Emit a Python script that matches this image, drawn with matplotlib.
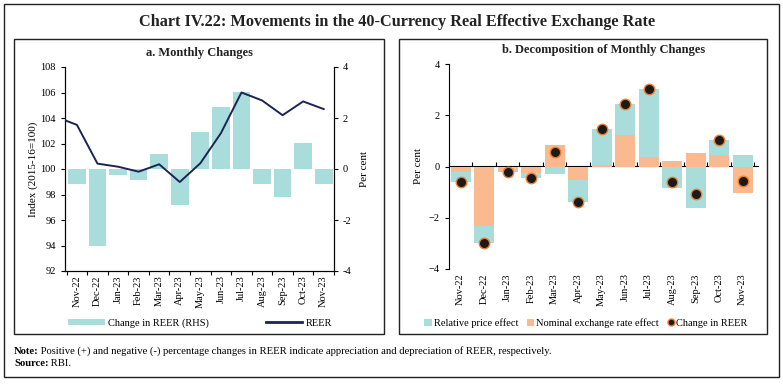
import matplotlib
matplotlib.use("Agg")
import matplotlib.pyplot as plt
from matplotlib.patches import Rectangle, Patch
from matplotlib.lines import Line2D
import numpy as np

plt.rcParams['font.family'] = ['Liberation Serif', 'DejaVu Serif']

months = ["Nov-22", "Dec-22", "Jan-23", "Feb-23", "Mar-23", "Apr-23", "May-23",
          "Jun-23", "Jul-23", "Aug-23", "Sep-23", "Oct-23", "Nov-23"]
# Panel a
reer_change = [-0.60, -3.00, -0.22, -0.42, 0.59, -1.40, 1.46, 2.44, 3.03, -0.60, -1.09, 1.01, -0.58]
reer_prev = 104.08  # Oct-22 REER (line enters from the left edge)
reer_index = [103.46, 100.42, 100.18, 99.79, 100.37, 98.98, 100.45, 102.81, 106.00,
              105.38, 104.22, 105.30, 104.70]
# Panel b
nominal_effect = [-0.23, -2.32, -0.20, -0.27, 0.85, -0.51, 0.07, 1.22, 0.38, 0.21, 0.52, 0.43, -1.02]
relative_effect = [-0.38, -0.65, -0.02, -0.16, -0.29, -0.86, 1.39, 1.22, 2.66, -0.82, -1.60, 0.61, 0.46]
total_change = [-0.60, -2.97, -0.22, -0.43, 0.56, -1.37, 1.46, 2.44, 3.04, -0.61, -1.08, 1.02, -0.56]

TEAL = "#A9DDDB"
ORANGE = "#FBB990"
NAVY = "#1C2456"
DOT_EDGE = "#F07A2A"

W, H = 783, 384
fig = plt.figure(figsize=(W/100, H/100), dpi=100)

def ax_rect(l, t, r, b):
    return [l/W, 1 - b/H, (r-l)/W, (b-t)/H]

def box(l, t, r, b, lw=1.0):
    fig.patches.append(Rectangle((l/W, 1 - b/H), (r-l)/W, (b-t)/H, transform=fig.transFigure,
                                 fill=False, edgecolor="#222222", linewidth=lw))

box(4, 4, 779, 377)
box(14, 39, 384, 334)
box(399, 39, 767, 334)

fig.text(397/W, 1 - 22/H, "Chart IV.22: Movements in the 40-Currency Real Effective Exchange Rate",
         ha="center", va="center", fontsize=11.7, fontweight="bold", color="#222222")

x = np.arange(len(months))
TS = 7.5

# ---------- Panel a ----------
axa = fig.add_axes(ax_rect(65, 67, 334, 271))
axa2 = axa.twinx()
axa2.bar(x, reer_change, width=0.86, color=TEAL, zorder=2)
axa2.set_ylim(-4, 4)
axa2.set_yticks([-4, -2, 0, 2, 4])
axa2.set_yticklabels(["-4", "-2", "0", "2", "4"])
axa2.set_ylabel("Per cent", fontsize=8, labelpad=6)

xl = np.concatenate([[-1], x])
yl = np.concatenate([[reer_prev], reer_index])
axa.plot(xl, yl, color=NAVY, linewidth=1.4, zorder=3)
axa.set_ylim(92, 108)
axa.set_yticks(np.arange(92, 109, 2))
axa.set_xlim(-0.58, 12.42)
axa.set_ylabel("Index (2015-16=100)", fontsize=8, labelpad=2)
axa.set_zorder(axa2.get_zorder() + 1)
axa.patch.set_visible(False)
axa.set_xticks(np.arange(-0.5, 13, 1))
axa.set_xticklabels([])
axa.set_xticks(x, minor=True)
axa.set_xticklabels(months, minor=True, rotation=90)
axa.tick_params(axis="x", which="minor", length=0, labelsize=TS, pad=3)
axa.tick_params(axis="x", which="major", length=3, direction="out")
axa.tick_params(axis="y", labelsize=TS, length=3)
axa2.tick_params(axis="y", labelsize=TS, length=3)
for a in (axa, axa2):
    a.spines["top"].set_visible(False)
    for s in ("left", "right", "bottom"):
        a.spines[s].set_linewidth(0.8)
axa.set_title("a. Monthly Changes", fontsize=9, fontweight="bold", pad=8, color="#222222")

handles_a = [Patch(facecolor=TEAL, edgecolor="none", label="Change in REER (RHS)"),
             Line2D([0], [0], color=NAVY, linewidth=2, label="REER")]
fig.legend(handles=handles_a, loc="center", bbox_to_anchor=(200/W, 1 - 323/H), ncol=2,
           frameon=False, fontsize=TS, handlelength=3.5, handleheight=0.6, columnspacing=5.5,
           handletextpad=0.3)

# ---------- Panel b ----------
axb = fig.add_axes(ax_rect(449, 64, 758, 269))
nom = np.array(nominal_effect)
rel = np.array(relative_effect)
rel_bottom = np.where(np.sign(rel) == np.sign(nom), nom, 0)
axb.bar(x, nom, width=0.87, color=ORANGE, zorder=2)
axb.bar(x, rel, bottom=rel_bottom, width=0.87, color=TEAL, zorder=2)
axb.plot(x, total_change, linestyle="none", marker="o", markersize=7.5,
         markerfacecolor="#1a1a1a", markeredgecolor=DOT_EDGE, markeredgewidth=1.0, zorder=4)
axb.set_ylim(-4, 4)
axb.set_yticks([-4, -2, 0, 2, 4])
axb.set_xlim(-0.5, 12.65)
axb.set_ylabel("Per cent", fontsize=8)
axb.tick_params(axis="y", labelsize=TS, length=3)
for s in ("top", "right", "bottom"):
    axb.spines[s].set_visible(False)
axb.spines["left"].set_linewidth(0.8)
axb.set_xticks(x)
axb.set_xticklabels(months, rotation=90)
axb.tick_params(axis="x", length=0, labelsize=TS, pad=3)
sec = axb.secondary_xaxis(0.5)
sec.set_xticks(np.arange(-0.5, 13, 1))
sec.set_xticklabels([])
sec.tick_params(axis="x", length=3, direction="out", width=0.8)
sec.spines["bottom"].set_linewidth(0.8)
axb.set_title("b. Decomposition of Monthly Changes", fontsize=9, fontweight="bold", pad=8,
              color="#222222")

handles_b = [Patch(facecolor=TEAL, edgecolor="none", label="Relative price effect"),
             Patch(facecolor=ORANGE, edgecolor="none", label="Nominal exchange rate effect"),
             Line2D([0], [0], linestyle="none", marker="o", markersize=5, markerfacecolor="#1a1a1a",
                    markeredgecolor=DOT_EDGE, markeredgewidth=1.0, label="Change in REER")]
fig.legend(handles=handles_b, loc="center", bbox_to_anchor=(586/W, 1 - 323/H), ncol=3,
           frameon=False, fontsize=TS, handlelength=0.7, handleheight=0.7, columnspacing=0.8,
           handletextpad=0.2)

# ---------- Notes ----------
NS = 7.7
renderer = fig.canvas.get_renderer()
t1 = fig.text(14/W, 1 - 351/H, "Note:", ha="left", va="center", fontsize=NS, fontweight="bold")
bb = t1.get_window_extent(renderer)
fig.text((bb.x1 - 1)/W, 1 - 351/H,
         " Positive (+) and negative (-) percentage changes in REER indicate appreciation and depreciation of REER, respectively.",
         ha="left", va="center", fontsize=NS)
t2 = fig.text(14/W, 1 - 364/H, "Source:", ha="left", va="center", fontsize=NS, fontweight="bold")
bb2 = t2.get_window_extent(renderer)
fig.text((bb2.x1 - 1)/W, 1 - 364/H, " RBI.", ha="left", va="center", fontsize=NS)

fig.savefig("out.png", dpi=100)
